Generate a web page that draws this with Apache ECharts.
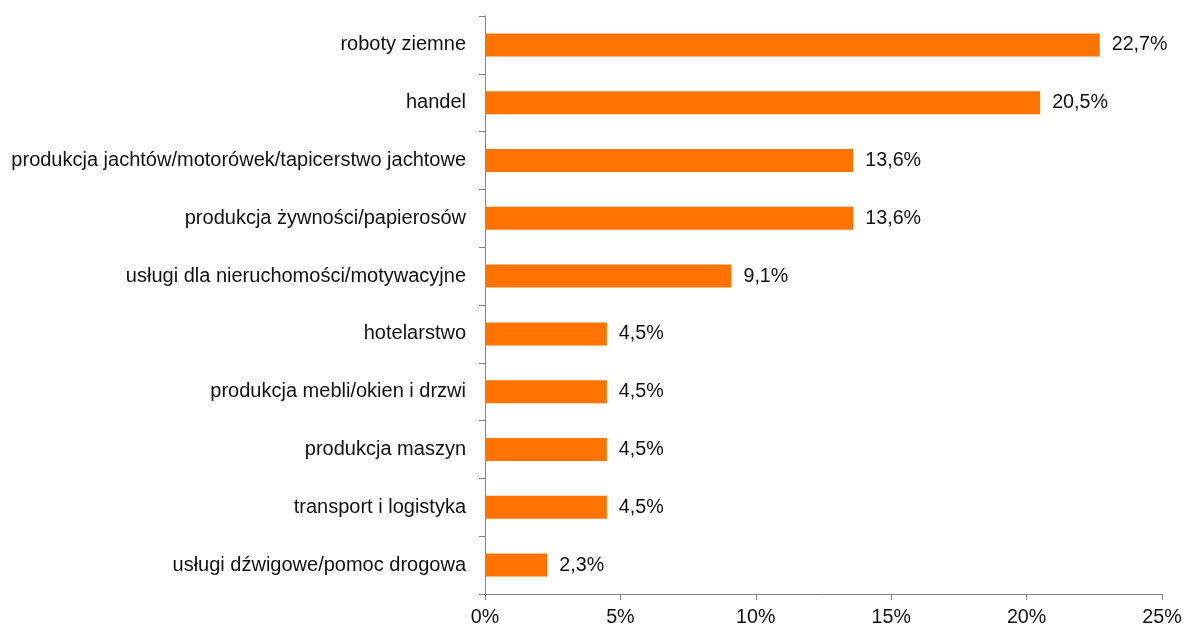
<!DOCTYPE html>
<html><head><meta charset="utf-8">
<script src="https://cdn.jsdelivr.net/npm/echarts@6/dist/echarts.min.js"></script>
<style>html,body{margin:0;padding:0;background:#fff}#c{width:1185px;height:628px}</style>
</head><body><div id="c"></div>
<script>
const categories = ["roboty ziemne","handel","produkcja jachtów/motorówek/tapicerstwo jachtowe","produkcja żywności/papierosów","usługi dla nieruchomości/motywacyjne","hotelarstwo","produkcja mebli/okien i drzwi","produkcja maszyn","transport i logistyka","usługi dźwigowe/pomoc drogowa"];
const values = [22.7,20.5,13.6,13.6,9.1,4.5,4.5,4.5,4.5,2.3];
const xTicks = [0,5,10,15,20,25];

const chart = echarts.init(document.getElementById('c'));
chart.setOption({
  animation:false,
  textStyle:{fontFamily:'Liberation Sans, Arial, sans-serif'},
  grid:{left:485,right:23,top:16,bottom:34,containLabel:false},
  xAxis:{type:'value',min:xTicks[0],max:xTicks[xTicks.length-1],interval:5,
    axisLine:{show:true,lineStyle:{color:'#868686',width:1}},
    axisTick:{show:true,length:6,lineStyle:{color:'#868686'}},
    splitLine:{show:false},
    axisLabel:{color:'#111',fontSize:19.7,margin:14,formatter:v=>v+'%'}},
  yAxis:{type:'category',inverse:true,data:categories,
    axisLine:{show:true,lineStyle:{color:'#868686',width:1}},
    axisTick:{show:true,length:6,inside:false,lineStyle:{color:'#868686'}},
    axisLabel:{color:'#111',fontSize:20,margin:19}},
  series:[{type:'bar',data:values,barWidth:23,
    itemStyle:{color:'#FF7300'},
    label:{show:true,position:'right',distance:12,color:'#111',fontSize:19.7,
      formatter:p=>p.value.toFixed(1).replace('.',',')+'%'}}]
});
</script></body></html>
